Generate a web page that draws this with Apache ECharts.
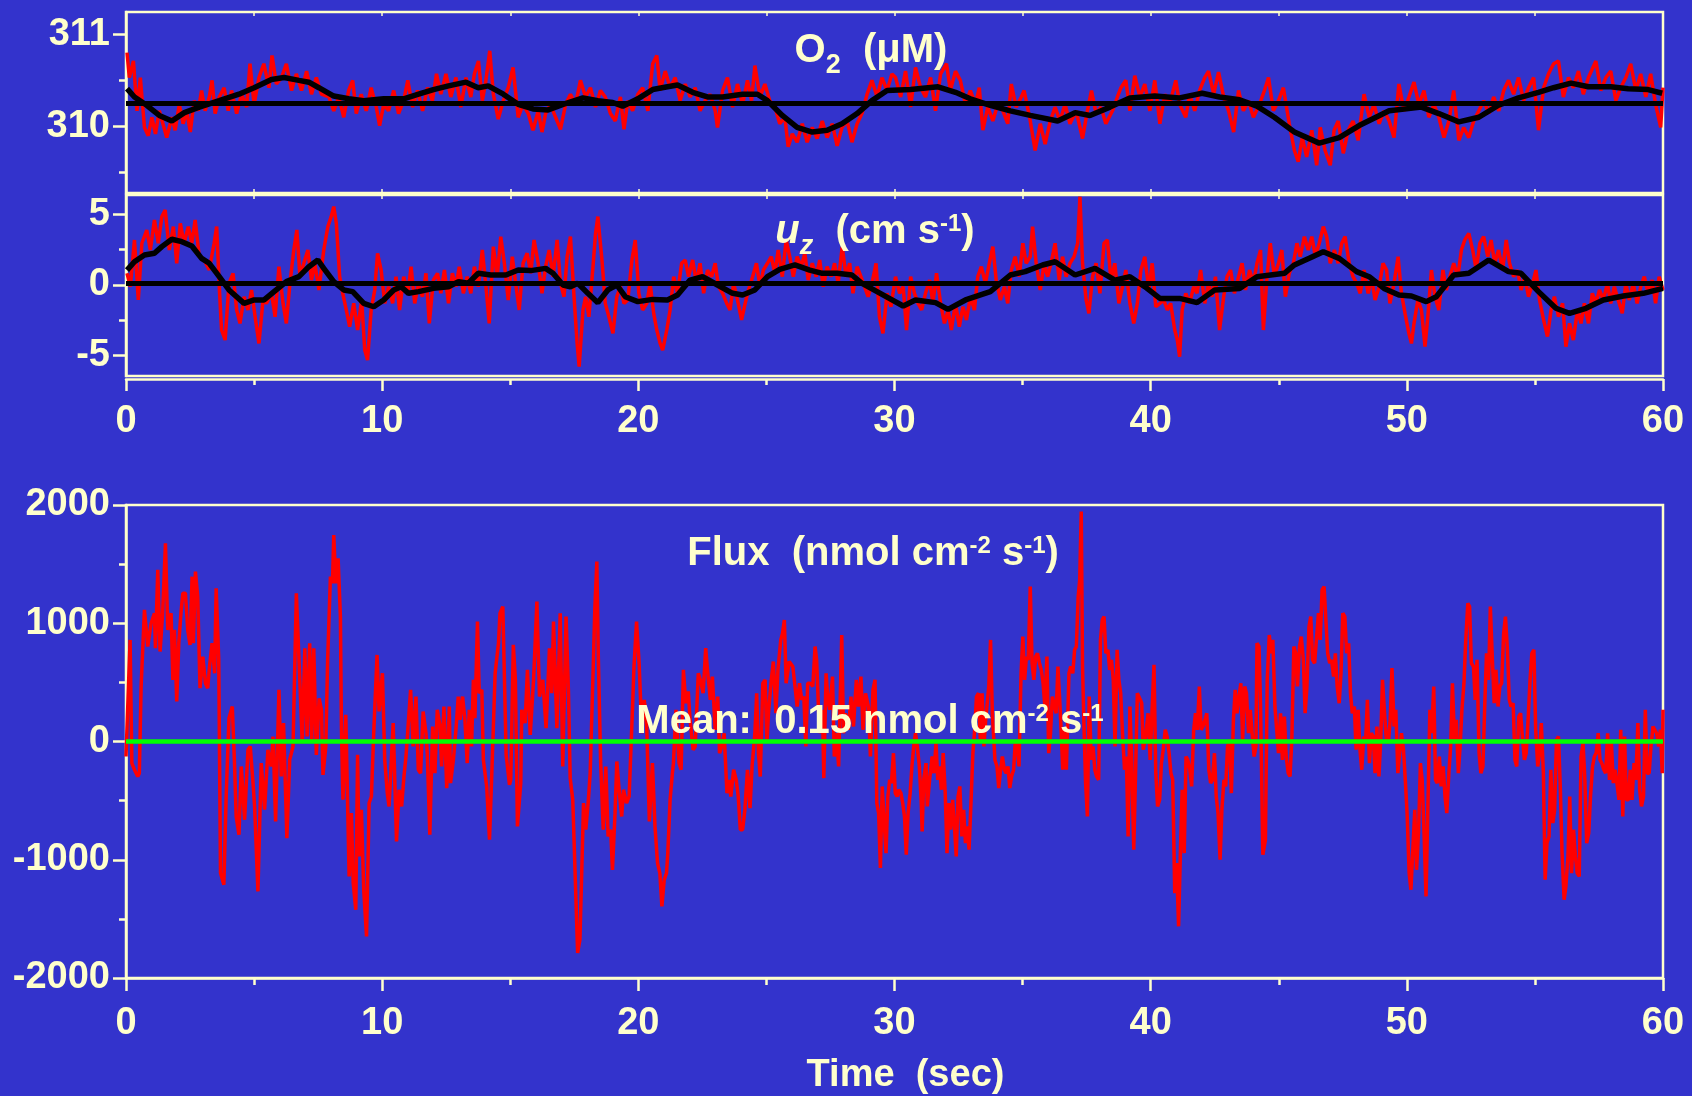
<!DOCTYPE html>
<html><head><meta charset="utf-8">
<script src="https://cdn.jsdelivr.net/npm/echarts@6/dist/echarts.min.js"></script>
<style>html,body{margin:0;padding:0;background:#3333CC;}#c{width:1692px;height:1096px;}</style>
</head><body><div id="c"></div>
<script>
// ---------- DATA (time in s) ----------
const o2Raw = [[0.04,310.80],[0.13,310.53],[0.29,310.71],[0.43,310.17],[0.56,310.53],[0.72,309.99],[0.87,309.90],[1.01,310.10],[1.15,309.92],[1.30,310.17],[1.46,310.01],[1.59,309.88],[1.79,310.10],[1.92,309.96],[2.08,310.24],[2.23,310.03],[2.37,310.17],[2.51,309.94],[2.66,310.28],[2.82,310.17],[2.95,310.39],[3.09,310.17],[3.25,310.32],[3.36,310.50],[3.48,310.14],[3.64,310.32],[3.83,310.42],[3.99,310.17],[4.12,310.39],[4.32,310.14],[4.51,310.35],[4.71,310.21],[4.84,310.68],[5.00,310.24],[5.19,310.53],[5.38,310.68],[5.58,310.42],[5.70,310.77],[5.87,310.46],[6.07,310.53],[6.26,310.68],[6.46,310.39],[6.65,310.57],[6.85,310.39],[7.05,310.60],[7.24,310.35],[7.43,310.53],[7.63,310.35],[7.92,310.32],[8.11,310.17],[8.31,310.32],[8.50,310.10],[8.69,310.39],[8.85,310.50],[8.99,310.14],[9.18,310.35],[9.38,310.17],[9.57,310.42],[9.77,310.21],[9.90,310.01],[10.06,310.24],[10.25,310.17],[10.45,310.39],[10.64,310.14],[10.84,310.28],[11.00,310.50],[11.19,310.21],[11.38,310.39],[11.58,310.17],[11.77,310.42],[11.96,310.28],[12.12,310.57],[12.29,310.35],[12.49,310.57],[12.68,310.32],[12.88,310.53],[13.07,310.21],[13.27,310.53],[13.46,310.32],[13.60,310.57],[13.76,310.71],[13.91,310.28],[14.04,310.48],[14.20,310.82],[14.34,310.35],[14.53,310.08],[14.73,310.28],[14.92,310.42],[15.11,310.64],[15.31,310.10],[15.50,310.24],[15.70,310.14],[15.89,309.96],[16.09,310.17],[16.24,309.94],[16.38,310.14],[16.57,310.24],[16.77,310.10],[16.96,309.97],[17.16,310.24],[17.35,310.35],[17.55,310.24],[17.74,310.50],[17.94,310.32],[18.13,310.42],[18.33,310.21],[18.52,310.39],[18.71,310.32],[18.91,310.14],[19.10,310.06],[19.30,310.32],[19.44,309.97],[19.59,310.28],[19.78,310.17],[19.98,310.35],[20.17,310.42],[20.37,310.17],[20.56,310.68],[20.72,310.77],[20.85,310.39],[21.05,310.60],[21.24,310.42],[21.44,310.53],[21.63,310.28],[21.83,310.46],[22.02,310.32],[22.22,310.42],[22.41,310.17],[22.61,310.28],[22.80,310.35],[23.00,310.17],[23.09,309.99],[23.29,310.39],[23.48,310.53],[23.68,310.21],[23.87,310.46],[24.07,310.24],[24.26,310.50],[24.42,310.28],[24.55,310.66],[24.75,310.32],[24.94,310.46],[25.13,310.28],[25.33,310.21],[25.52,310.03],[25.72,310.10],[25.85,309.78],[26.01,309.92],[26.20,309.83],[26.40,310.03],[26.59,309.83],[26.79,309.99],[26.98,309.87],[27.18,310.06],[27.37,309.88],[27.57,310.03],[27.76,309.79],[27.95,309.99],[28.15,310.06],[28.34,309.83],[28.54,310.03],[28.73,310.14],[28.93,310.35],[29.12,310.50],[29.32,310.32],[29.51,310.53],[29.71,310.39],[29.90,310.57],
[30.04,310.53],[30.24,310.32],[30.43,310.60],[30.63,310.21],[30.82,310.64],[31.02,310.42],[31.21,310.32],[31.41,310.53],[31.60,310.17],[31.80,310.57],[32.03,310.68],[32.18,310.39],[32.38,310.60],[32.57,310.50],[32.77,310.24],[32.96,310.39],[33.16,310.24],[33.31,310.42],[33.45,309.96],[33.64,310.21],[33.84,310.06],[34.03,310.24],[34.23,310.17],[34.42,310.03],[34.56,310.46],[34.75,310.21],[34.95,310.32],[35.06,310.39],[35.30,310.06],[35.49,309.74],[35.69,310.03],[35.88,309.81],[36.08,310.06],[36.27,310.21],[36.46,310.06],[36.66,310.24],[36.85,310.03],[37.09,310.17],[37.34,309.87],[37.53,310.17],[37.69,310.39],[37.87,310.14],[38.06,310.21],[38.25,310.03],[38.51,310.17],[38.70,310.32],[38.84,310.42],[39.03,310.50],[39.19,310.17],[39.38,310.55],[39.58,310.32],[39.77,310.46],[39.97,310.17],[40.16,310.50],[40.36,310.03],[40.55,310.35],[40.74,310.24],[40.98,310.50],[41.13,310.24],[41.37,310.10],[41.52,310.35],[41.72,310.17],[41.91,310.39],[42.11,310.53],[42.26,310.60],[42.46,310.35],[42.65,310.59],[42.85,310.32],[43.04,310.17],[43.24,309.94],[43.43,310.39],[43.62,310.17],[43.82,310.28],[44.01,310.10],[44.25,310.24],[44.44,310.39],[44.60,310.53],[44.79,310.17],[44.99,310.28],[45.18,310.42],[45.41,310.03],[45.61,309.74],[45.76,309.62],[45.92,309.88],[46.09,309.67],[46.29,309.96],[46.48,309.58],[46.62,309.99],[46.81,309.74],[47.01,309.58],[47.16,309.96],[47.32,310.06],[47.52,309.71],[47.71,309.96],[47.90,310.06],[48.10,309.85],[48.33,310.35],[48.53,310.10],[48.72,310.24],[48.92,310.03],[49.11,310.17],[49.31,310.06],[49.50,309.88],[49.69,310.46],[49.89,310.17],[50.08,310.32],[50.28,310.48],[50.47,310.24],[50.67,310.39],[50.86,310.10],[51.06,310.24],[51.25,310.10],[51.45,309.88],[51.64,310.06],[51.83,310.39],[52.03,309.85],[52.22,309.99],[52.42,309.88],[52.61,310.06],[52.81,310.17],[53.00,310.28],[53.20,310.14],[53.39,310.32],[53.59,310.17],[53.78,310.39],[53.97,310.50],[54.17,310.35],[54.36,310.53],[54.56,310.28],[54.75,310.42],[54.95,310.53],[55.14,309.96],[55.34,310.42],[55.53,310.57],[55.73,310.68],[55.92,310.71],[56.11,310.32],[56.31,310.53],[56.50,310.42],[56.70,310.60],[56.89,310.35],[57.09,310.53],[57.38,310.71],[57.57,310.39],[57.77,310.53],[57.96,310.60],[58.16,310.28],[58.35,310.42],[58.55,310.53],[58.74,310.68],[58.94,310.39],[59.13,310.57],[59.33,310.32],[59.52,310.57],[59.71,310.24],[59.91,309.99],[60.00,310.42]];

const o2Smooth = [[0.04,310.41],[0.33,310.32],[0.81,310.23],[1.30,310.12],[1.79,310.06],[2.28,310.15],[2.86,310.21],[3.64,310.28],[4.41,310.35],[5.00,310.42],[5.68,310.51],[6.17,310.53],[6.75,310.50],[7.14,310.48],[7.53,310.42],[8.11,310.33],[8.69,310.30],[9.28,310.28],[10.06,310.30],[10.84,310.30],[11.42,310.35],[12.00,310.40],[12.59,310.44],[13.27,310.48],[13.75,310.42],[14.14,310.44],[14.73,310.35],[15.31,310.24],[15.89,310.19],[16.48,310.18],[17.06,310.24],[17.84,310.31],[18.42,310.28],[19.00,310.26],[19.39,310.22],[19.98,310.30],[20.56,310.40],[21.14,310.43],[21.53,310.45],[22.12,310.37],[22.70,310.32],[23.29,310.32],[24.07,310.35],[24.65,310.35],[25.04,310.28],[25.62,310.12],[26.20,309.99],[26.79,309.94],[27.37,309.96],[27.95,310.03],[28.54,310.14],[29.12,310.28],[29.71,310.39],[30.63,310.40],[31.70,310.43],[32.38,310.37],[32.96,310.30],[33.74,310.23],[34.52,310.17],[35.30,310.12],[36.37,310.06],[37.05,310.15],[37.63,310.12],[38.41,310.21],[39.19,310.31],[40.16,310.33],[41.13,310.31],[42.01,310.36],[42.69,310.32],[43.47,310.29],[44.15,310.22],[44.83,310.10],[45.61,309.94],[46.58,309.82],[47.36,309.88],[48.14,310.01],[49.31,310.17],[50.57,310.21],[51.25,310.14],[52.03,310.05],[52.81,310.10],[53.58,310.23],[54.36,310.31],[55.14,310.37],[55.73,310.42],[56.41,310.47],[57.09,310.43],[57.96,310.43],[58.64,310.41],[59.42,310.40],[59.97,310.36]];

const o2Mean = 310.25;

const uzRaw = [[0.04,0.83],[0.17,-0.12],[0.33,3.19],[0.48,-1.06],[0.62,2.96],[0.81,3.90],[0.95,2.48],[1.11,4.61],[1.26,2.96],[1.40,4.85],[1.53,5.32],[1.69,2.48],[1.85,4.14],[1.98,1.54],[2.12,4.37],[2.27,2.96],[2.43,4.14],[2.57,2.96],[2.70,4.61],[2.86,2.01],[3.05,1.77],[3.25,1.06],[3.44,2.96],[3.54,4.14],[3.64,-0.12],[3.73,-3.19],[3.87,-3.90],[4.02,0.12],[4.18,0.83],[4.32,-1.77],[4.45,-2.72],[4.61,-0.83],[4.76,-1.77],[4.90,-0.35],[5.04,-2.25],[5.19,-4.14],[5.35,-1.06],[5.48,-1.30],[5.68,-0.59],[5.82,-2.25],[5.97,1.30],[6.13,-1.30],[6.26,-2.72],[6.40,0.12],[6.55,2.48],[6.67,3.90],[6.79,0.59],[6.94,1.54],[7.10,2.48],[7.24,0.35],[7.37,1.54],[7.53,-0.35],[7.72,2.48],[7.88,4.14],[8.01,4.85],[8.11,5.56],[8.21,4.37],[8.34,0.59],[8.46,-0.59],[8.60,-1.77],[8.73,-2.96],[8.89,-1.30],[9.04,-3.19],[9.20,-1.06],[9.32,-4.61],[9.43,-5.32],[9.57,-1.77],[9.71,-0.35],[9.82,2.25],[9.96,1.06],[10.10,-1.30],[10.25,-0.12],[10.41,-1.30],[10.54,0.59],[10.68,-1.77],[10.84,0.59],[11.00,-0.59],[11.13,1.30],[11.27,-1.30],[11.42,0.12],[11.57,-0.83],[11.71,0.83],[11.84,-2.72],[12.00,0.35],[12.16,0.83],[12.29,-0.59],[12.43,1.06],[12.59,-1.30],[12.74,0.83],[12.88,-0.12],[13.01,1.30],[13.17,-0.59],[13.32,0.59],[13.46,-0.59],[13.60,1.30],[13.75,-0.12],[13.91,2.48],[14.04,0.12],[14.18,-2.72],[14.34,2.72],[14.49,0.59],[14.63,3.43],[14.77,1.54],[14.92,-1.06],[15.08,2.01],[15.21,0.12],[15.35,-1.77],[15.50,1.54],[15.66,2.25],[15.80,0.83],[15.93,3.19],[16.09,1.54],[16.24,-0.59],[16.38,1.30],[16.52,2.48],[16.67,0.59],[16.83,3.19],[16.96,0.12],[17.10,-0.83],[17.22,2.01],[17.35,3.43],[17.49,-0.83],[17.61,-4.14],[17.69,-5.79],[17.84,-1.77],[17.94,-0.83],[18.07,-2.25],[18.23,1.30],[18.33,3.66],[18.42,4.85],[18.58,1.77],[18.71,-1.30],[18.85,-2.25],[19.01,-3.43],[19.16,-0.83],[19.30,-0.12],[19.44,-1.30],[19.59,-1.06],[19.75,1.77],[19.88,3.19],[20.02,-0.59],[20.17,-1.77],[20.33,-1.30],[20.46,0.12],[20.60,-2.01],[20.72,-3.19],[20.85,-4.14],[20.95,-4.61],[21.11,-3.19],[21.24,-1.77],[21.38,0.59],[21.53,-0.59],[21.69,1.54],[21.83,1.77],[21.96,0.59],[22.12,1.77],[22.27,0.12],[22.41,1.54],[22.55,-0.59],[22.70,1.06],[22.86,0.59],[23.00,1.54],[23.13,-0.12],[23.29,-0.59],[23.45,-1.30],[23.58,-1.77],[23.72,0.12],[23.87,-1.06],[24.03,-2.48],[24.17,-1.30],[24.30,-0.35],[24.46,0.59],[24.61,1.54],[24.75,-0.12],[24.88,1.06],[25.04,1.54],[25.19,2.01],[25.33,0.83],[25.46,2.48],[25.62,0.59],[25.77,3.19],[25.91,2.01],[26.05,0.59],[26.20,2.01],[26.36,1.30],[26.50,2.25],[26.63,0.35],[26.79,1.54],[26.94,0.59],[27.08,1.77],[27.22,-0.12],[27.37,1.30],[27.53,0.59],[27.66,1.54],[27.80,0.12],[27.96,2.72],[28.11,0.59],[28.25,1.54],[28.38,-0.59],[28.54,1.30],[28.69,0.59],[28.83,-0.12],[28.97,-0.83],[29.12,0.12],[29.28,1.54],[29.41,-2.25],[29.55,-3.43],[29.71,-0.59],[29.86,-1.54],[30.00,0.12],
[30.04,0.59],[30.20,-0.59],[30.34,-0.12],[30.47,-3.19],[30.63,0.59],[30.78,-0.59],[30.92,-1.30],[31.06,-1.77],[31.21,-0.59],[31.37,0.35],[31.50,-1.30],[31.64,0.83],[31.80,-1.30],[31.95,-2.72],[32.09,-1.77],[32.22,-3.19],[32.38,-1.30],[32.53,-2.96],[32.67,-1.54],[32.81,-2.48],[32.96,-0.83],[33.12,-1.77],[33.25,0.59],[33.39,1.30],[33.55,0.12],[33.70,1.54],[33.84,2.72],[33.97,0.35],[34.13,-1.06],[34.29,-0.12],[34.42,-1.30],[34.56,1.06],[34.71,2.01],[34.87,0.59],[35.01,2.96],[35.14,1.54],[35.30,2.01],[35.39,4.14],[35.53,1.54],[35.69,-0.35],[35.84,1.54],[35.98,0.59],[36.11,1.54],[36.27,2.96],[36.43,0.35],[36.56,2.01],[36.70,0.59],[36.85,1.54],[37.01,2.01],[37.15,2.96],[37.24,6.26],[37.34,1.54],[37.48,-1.06],[37.59,-2.01],[37.73,0.59],[37.87,1.54],[38.02,-0.59],[38.18,2.96],[38.31,3.19],[38.45,0.35],[38.60,1.54],[38.76,-1.30],[38.90,-0.12],[39.03,1.06],[39.19,-1.30],[39.34,-2.72],[39.48,-1.30],[39.62,1.06],[39.77,2.01],[39.93,-0.35],[40.06,1.54],[40.20,-1.54],[40.36,-1.30],[40.51,-1.06],[40.65,-1.77],[40.78,-1.30],[40.94,-3.19],[41.04,-3.90],[41.13,-5.08],[41.23,-1.77],[41.37,-0.59],[41.52,-1.30],[41.68,-0.12],[41.81,-0.59],[41.95,1.06],[42.11,-1.30],[42.26,0.12],[42.40,-0.83],[42.53,0.59],[42.69,-3.19],[42.85,-0.83],[42.98,0.59],[43.12,1.06],[43.27,-0.59],[43.43,0.59],[43.57,1.54],[43.70,-0.35],[43.86,1.06],[44.01,0.12],[44.15,1.54],[44.29,2.48],[44.40,-3.19],[44.54,0.59],[44.67,2.96],[44.83,0.59],[44.99,1.54],[45.12,2.48],[45.26,-0.83],[45.41,0.83],[45.57,1.54],[45.71,2.96],[45.84,2.01],[46.00,3.43],[46.15,2.48],[46.29,3.43],[46.43,2.01],[46.58,2.96],[46.74,4.14],[46.87,3.43],[47.01,1.54],[47.17,2.48],[47.32,1.54],[47.46,2.96],[47.59,3.43],[47.75,1.54],[47.90,0.59],[48.04,0.12],[48.18,-0.59],[48.33,1.06],[48.49,-0.59],[48.62,0.59],[48.76,-1.06],[48.92,-0.12],[49.07,1.54],[49.21,1.06],[49.34,-1.30],[49.50,0.12],[49.66,2.01],[49.79,-0.59],[49.93,-2.01],[50.08,-3.43],[50.18,-4.14],[50.28,-2.72],[50.43,-1.06],[50.57,-1.77],[50.71,-4.37],[50.82,-2.25],[50.96,1.06],[51.10,-0.83],[51.25,-1.77],[51.41,1.06],[51.54,-0.35],[51.68,0.59],[51.83,1.54],[51.99,0.59],[52.13,2.48],[52.26,3.19],[52.42,3.66],[52.57,2.48],[52.71,1.06],[52.85,2.96],[53.00,3.43],[53.16,2.01],[53.29,3.19],[53.43,1.54],[53.58,2.48],[53.74,1.06],[53.88,3.19],[54.01,1.54],[54.17,0.59],[54.32,1.06],[54.46,-0.35],[54.60,0.59],[54.75,-0.83],[54.91,0.12],[55.04,1.06],[55.18,-1.06],[55.34,-2.48],[55.49,-3.66],[55.63,-1.77],[55.76,-0.83],[55.92,-2.25],[56.08,-1.30],[56.21,-4.37],[56.35,-2.72],[56.50,-3.90],[56.66,-1.77],[56.80,-2.72],[56.93,-1.30],[57.09,-2.72],[57.24,-0.59],[57.38,-1.30],[57.52,-0.35],[57.67,-1.06],[57.83,0.12],[57.96,-1.30],[58.10,-0.12],[58.25,-1.06],[58.41,-2.01],[58.55,0.12],[58.68,-1.06],[58.84,0.12],[58.99,-1.30],[59.13,-0.12],[59.27,0.59],[59.42,-0.59],[59.58,0.35],[59.71,-1.30],[59.85,0.59],[60.00,-0.35]];

const uzSmooth = [[0.04,1.06],[0.33,1.65],[0.72,2.13],[1.11,2.25],[1.40,2.72],[1.79,3.24],[2.18,3.07],[2.57,2.77],[2.95,1.89],[3.25,1.54],[3.64,0.59],[4.02,-0.35],[4.61,-1.30],[5.00,-1.06],[5.39,-1.06],[5.78,-0.47],[6.26,0.24],[6.75,0.59],[7.14,1.30],[7.49,1.77],[7.72,1.18],[8.11,0.24],[8.50,-0.35],[8.85,-0.47],[9.28,-1.30],[9.67,-1.54],[10.06,-1.06],[10.45,-0.35],[10.74,-0.12],[11.03,-0.59],[11.42,-0.47],[12.00,-0.24],[12.59,-0.12],[12.98,0.24],[13.36,0.12],[13.75,0.83],[14.24,0.71],[14.83,0.71],[15.31,1.06],[15.80,1.02],[16.38,1.18],[16.67,0.83],[17.06,0.00],[17.35,-0.12],[17.64,0.12],[18.03,-0.59],[18.42,-1.25],[18.81,-0.35],[19.16,0.00],[19.49,-0.83],[19.98,-1.18],[20.56,-1.02],[21.14,-1.06],[21.53,-0.71],[22.02,0.35],[22.51,0.59],[23.09,0.00],[23.68,-0.59],[24.07,-0.71],[24.55,-0.35],[25.04,0.59],[25.52,1.11],[26.11,1.42],[26.69,1.06],[27.18,0.83],[27.76,0.83],[28.34,0.71],[28.73,0.12],[29.32,-0.47],[29.85,-1.00],[30.34,-1.49],[30.82,-1.06],[31.60,-1.25],[32.09,-1.73],[32.77,-1.06],[33.74,-0.47],[34.52,0.71],[35.10,0.95],[35.78,1.42],[36.27,1.65],[37.05,0.71],[37.83,1.18],[38.60,0.35],[39.19,0.59],[39.77,-0.12],[40.36,-0.95],[41.13,-0.95],[41.81,-1.25],[42.50,-0.35],[43.47,-0.24],[44.15,0.59],[45.22,0.83],[45.61,1.42],[46.19,1.89],[46.74,2.36],[47.36,1.89],[48.04,0.95],[48.53,0.59],[49.11,-0.24],[49.69,-0.71],[50.18,-0.78],[50.76,-1.18],[51.15,-0.83],[51.83,0.71],[52.42,0.83],[53.20,1.77],[53.97,0.95],[54.46,0.83],[55.14,-0.47],[55.82,-1.65],[56.35,-2.01],[56.99,-1.65],[57.67,-1.06],[58.45,-0.78],[59.23,-0.59],[60.00,-0.24]];

const uzMean = 0.1;

const fluxRaw = [[0,-127],[0.16,859],[0.23,-183],[0.33,-239],[0.46,-296],[0.52,-268],[0.59,465],[0.72,1113],[0.85,803],[0.98,1000],[1.11,1085],[1.15,789],[1.24,1451],[1.33,761],[1.43,1085],[1.54,1676],[1.63,944],[1.76,1085],[1.83,521],[1.89,944],[1.98,338],[2.06,831],[2.15,1099],[2.22,1254],[2.32,1254],[2.41,944],[2.50,817],[2.58,1394],[2.63,831],[2.71,1437],[2.80,1225],[2.89,451],[3.00,718],[3.10,493],[3.19,451],[3.26,634],[3.36,831],[3.46,577],[3.52,1296],[3.62,690],[3.69,-1113],[3.82,-1211],[3.91,-465],[4.02,197],[4.15,296],[4.24,-211],[4.30,-634],[4.41,-789],[4.50,-211],[4.63,-662],[4.76,-70],[4.85,-42],[4.95,-324],[5.02,-549],[5.15,-1268],[5.28,-183],[5.41,-577],[5.54,-70],[5.67,-211],[5.74,42],[5.84,-676],[5.97,437],[6.06,-296],[6.15,155],[6.28,-817],[6.39,-155],[6.52,-42],[6.65,1254],[6.71,1254],[6.78,549],[6.88,-14],[6.98,789],[7.07,42],[7.17,831],[7.25,14],[7.33,789],[7.43,-113],[7.54,366],[7.63,268],[7.69,-282],[7.80,-42],[7.87,676],[7.98,1394],[8.06,1338],[8.11,1746],[8.19,1338],[8.28,1549],[8.37,1056],[8.41,113],[8.47,-493],[8.58,225],[8.71,-1141],[8.80,-606],[8.87,-1197],[8.97,-1423],[9.04,-113],[9.10,-972],[9.19,-577],[9.28,-1254],[9.39,-1648],[9.49,-521],[9.58,-465],[9.67,70],[9.80,732],[9.88,254],[10.01,577],[10.10,-155],[10.20,-437],[10.27,-549],[10.43,155],[10.56,-845],[10.66,-408],[10.76,-549],[10.85,-296],[10.93,-127],[11.02,155],[11.11,437],[11.21,-42],[11.32,380],[11.41,-239],[11.50,-268],[11.60,254],[11.71,70],[11.76,-99],[11.86,-789],[11.97,127],[12.06,-268],[12.15,268],[12.26,127],[12.32,-211],[12.41,296],[12.52,-394],[12.62,296],[12.67,-352],[12.78,-155],[12.88,99],[12.97,380],[13.04,183],[13.14,380],[13.23,183],[13.32,-183],[13.40,268],[13.49,-42],[13.56,521],[13.62,197],[13.72,1014],[13.79,408],[13.89,437],[13.95,-155],[14.08,-380],[14.19,-831],[14.28,-268],[14.41,577],[14.54,831],[14.60,1085],[14.71,1141],[14.84,-113],[14.97,-366],[15.02,-324],[15.12,817],[15.20,521],[15.28,-718],[15.41,-352],[15.45,268],[15.58,155],[15.67,606],[15.78,56],[15.91,521],[16.04,1183],[16.14,380],[16.27,521],[16.40,113],[16.53,789],[16.62,408],[16.69,1014],[16.82,113],[16.95,1085],[17.05,-211],[17.18,1056],[17.27,437],[17.34,-310],[17.44,-493],[17.54,-1169],[17.63,-1789],
[17.72,-1676],[17.81,-944],[17.86,-521],[17.95,-746],[18.05,-493],[18.12,-268],[18.24,634],[18.30,1113],[18.38,1521],[18.44,690],[18.53,-183],[18.63,-746],[18.73,-211],[18.82,-803],[18.92,-746],[18.99,-1085],[19.09,-606],[19.16,-169],[19.25,-408],[19.35,-634],[19.42,-408],[19.54,-521],[19.64,-465],[19.71,-70],[19.78,324],[19.83,634],[19.93,1014],[20.03,662],[20.14,70],[20.23,352],[20.32,183],[20.43,-676],[20.55,-183],[20.65,-718],[20.75,-1028],[20.84,-1113],[20.92,-1394],[21.01,-1169],[21.10,-1113],[21.15,-944],[21.24,-493],[21.33,-268],[21.37,-183],[21.47,268],[21.59,-183],[21.67,-239],[21.76,606],[21.85,324],[21.95,423],[22.02,183],[22.14,-70],[22.22,-42],[22.34,577],[22.42,521],[22.53,408],[22.63,789],[22.71,577],[22.81,352],[22.89,549],[23.00,99],[23.10,380],[23.17,-99],[23.25,-42],[23.35,70],[23.46,-437],[23.55,-324],[23.61,-465],[23.72,-239],[23.82,-324],[23.90,-465],[23.98,-746],[24.07,-746],[24.16,-577],[24.26,-239],[24.36,-563],[24.44,-211],[24.55,70],[24.62,408],[24.69,-99],[24.76,-296],[24.86,493],[24.95,521],[25.02,-14],[25.08,239],[25.19,521],[25.27,676],[25.37,239],[25.45,606],[25.56,859],[25.63,916],[25.70,1028],[25.77,493],[25.89,676],[25.95,690],[26.03,634],[26.13,437],[26.20,296],[26.29,493],[26.38,352],[26.46,380],[26.54,-42],[26.61,493],[26.71,493],[26.81,465],[26.90,803],[26.96,690],[27.04,239],[27.10,70],[27.19,268],[27.24,-310],[27.33,577],[27.39,380],[27.47,268],[27.58,549],[27.65,-127],[27.72,70],[27.82,-211],[27.94,901],[28.01,70],[28.08,239],[28.20,99],[28.30,380],[28.40,127],[28.51,521],[28.59,296],[28.69,549],[28.77,99],[28.87,408],[28.98,296],[29.06,-127],[29.16,437],[29.24,521],[29.31,-521],[29.38,-606],[29.45,-1070],[29.52,-380],[29.60,-690],[29.67,-944],[29.74,-465],[29.81,-324],[29.88,-352],[29.96,-99],[30.03,-437],[30.10,-465],[30.17,-408],[30.25,-437],[30.32,-521],[30.39,-634],[30.46,-958],[30.53,-606],[30.61,-437],[30.68,-211],[30.75,-42],[30.82,70],[30.89,-42],[30.97,-211],[31.04,-493],[31.08,-761],[31.14,-324],[31.23,-183],[31.28,-549],[31.37,-324],[31.47,-127],[31.54,-268],[31.62,-14],[31.69,-324],[31.76,-211],[31.83,-408],[31.90,-99],[31.98,-437],[32.05,-944],[32.12,-521],[32.19,-746],[32.27,-493],[32.34,-718],[32.41,-972],[32.48,-465],[32.55,-380],[32.63,-803],[32.70,-577],[32.77,-859],[32.84,-718],[32.91,-915],[32.99,-493],[33.06,-99],[33.13,99],[33.20,380],[33.28,408],[33.35,14],[33.42,408],[33.49,-42],[33.56,183],[33.68,465],[33.75,859],[33.82,239],[33.92,-155],[34.00,-211],[34.07,-394],[34.14,-239],[34.21,-127],[34.29,-239],[34.36,-268],[34.43,-211],[34.50,-394],[34.57,-296],[34.65,-239],[34.72,14],[34.79,-42],[34.86,-211],[34.94,577],[35.01,887],[35.08,521],[35.15,718],[35.22,690],[35.30,1310],[35.37,662],[35.44,521],[35.51,718],[35.58,746],[35.66,662],[35.73,606],[35.80,493],[35.87,296],[35.95,718],[36.02,-99],[36.09,70],[36.16,380],[36.31,239],[36.38,634],[36.45,352],[36.57,-239],[36.62,99],[36.71,-239],[36.81,577],[36.88,634],[36.96,577],[37.03,775],[37.10,803],[37.17,1225],[37.23,1366],[37.29,1944],[37.34,634],[37.39,183],[37.46,-352],[37.53,-634],[37.60,380],[37.68,-155],[37.75,-42],[37.82,-239],[37.89,-296],[37.97,-324],[38.04,859],[38.11,1028],[38.18,1056],[38.25,746],[38.33,775],[38.40,606],[38.47,690],[38.54,521],[38.61,-42],[38.69,775],[38.76,521],[38.83,408],[38.90,70],[38.98,-239],[39.05,-127],[39.12,-803],[39.19,296],[39.26,-155],[39.34,-915],[39.41,-268],[39.48,408],[39.60,352],
[39.65,324],[39.71,-70],[39.80,42],[39.90,239],[39.98,-155],[40.05,239],[40.13,648],[40.20,-268],[40.27,-549],[40.35,-493],[40.42,-183],[40.49,-70],[40.57,99],[40.64,42],[40.72,-99],[40.79,-268],[40.86,-324],[40.94,-1282],[41.01,-1028],[41.09,-1563],[41.16,-944],[41.23,-408],[41.31,-944],[41.38,-127],[41.45,-155],[41.53,-239],[41.60,-380],[41.68,99],[41.75,239],[41.82,99],[41.90,465],[41.97,99],[42.04,127],[42.12,183],[42.19,239],[42.27,-239],[42.34,-352],[42.41,-324],[42.49,-99],[42.56,-465],[42.63,-606],[42.71,-1000],[42.78,-577],[42.86,-324],[42.93,-380],[43.00,-42],[43.08,14],[43.15,-437],[43.23,183],[43.30,437],[43.37,239],[43.45,380],[43.52,493],[43.59,14],[43.67,465],[43.74,408],[43.82,70],[43.89,268],[43.96,70],[44.04,-127],[44.11,-42],[44.15,831],[44.23,803],[44.29,296],[44.38,-958],[44.48,-831],[44.55,521],[44.63,901],[44.70,746],[44.77,859],[44.85,296],[44.92,296],[44.99,-99],[45.07,239],[45.14,-155],[45.22,211],[45.29,-127],[45.37,-268],[45.44,-296],[45.51,14],[45.59,803],[45.66,746],[45.73,465],[45.81,803],[45.88,887],[45.96,690],[46.03,239],[46.10,465],[46.18,972],[46.25,1056],[46.32,690],[46.40,662],[46.47,662],[46.55,1085],[46.62,859],[46.69,1282],[46.77,1310],[46.84,1028],[46.91,746],[46.99,662],[47.06,690],[47.14,549],[47.21,746],[47.28,465],[47.36,324],[47.43,577],[47.50,1085],[47.58,1056],[47.65,746],[47.73,831],[47.80,408],[47.87,239],[47.95,296],[48.02,-70],[48.10,268],[48.17,-70],[48.24,-239],[48.32,42],[48.39,-14],[48.46,352],[48.54,-183],[48.61,70],[48.69,42],[48.76,-268],[48.83,127],[48.91,-296],[48.98,14],[49.05,521],[49.13,239],[49.20,14],[49.28,-14],[49.35,183],[49.42,620],[49.50,127],[49.57,268],[49.65,-268],[49.72,-268],[49.79,70],[49.87,-70],[49.94,-324],[50.01,-606],[50.09,-1113],[50.16,-1254],[50.24,-887],[50.31,-577],[50.38,-1085],[50.46,-746],[50.53,-183],[50.60,-324],[50.68,-831],[50.75,-1310],[50.83,-465],[50.90,268],[50.97,70],[51.05,465],[51.12,-324],[51.19,-352],[51.27,-127],[51.34,-380],[51.42,-211],[51.49,-465],[51.56,-606],[51.64,-268],[51.71,-42],[51.78,493],[51.86,14],[51.93,183],[52.01,-268],[52.08,-42],[52.15,268],[52.23,493],[52.30,859],[52.38,1169],[52.45,1141],[52.52,662],[52.60,634],[52.67,352],[52.74,690],[52.82,-99],[52.89,-268],[52.97,-211],[53.04,296],[53.11,746],[53.19,521],[53.26,1141],[53.34,690],[53.41,324],[53.48,606],[53.56,296],[53.63,465],[53.70,493],[53.78,916],[53.85,1056],[53.92,803],[54.00,352],[54.07,296],[54.15,324],[54.22,-155],[54.29,-211],[54.37,211],[54.44,239],[54.52,14],[54.59,-155],[54.66,-99],[54.74,211],[54.81,521],[54.88,746],[54.96,775],[55.03,99],[55.11,-211],[55.18,-99],[55.25,155],[55.33,-268],[55.40,-1169],[55.47,-859],[55.55,-803],[55.62,-239],[55.70,-690],[55.77,-577],[55.84,14],[55.92,42],[55.99,-380],[56.06,-944],[56.14,-1338],[56.21,-1225],[56.29,-972],[56.36,-465],[56.43,-1113],[56.51,-746],[56.58,-972],[56.65,-1113],[56.73,-1141],[56.80,-127],[56.88,-14],[56.95,-324],[57.02,-859],[57.10,-775],[57.17,-465],[57.25,-211],[57.32,-127],[57.39,-99],[57.47,70],[57.54,-155],[57.61,-183],[57.69,-239],[57.76,-268],[57.84,70],[57.91,-324],[57.98,14],[58.06,-352],[58.13,-239],[58.20,-352],[58.28,-493],[58.35,99],[58.43,-634],[58.50,42],[58.57,-493],[58.65,-493],[58.72,-239],[58.79,-493],[58.87,-183],[58.94,-324],[59.02,155],[59.09,-408],[59.16,-549],[59.24,-465],[59.31,268],[59.38,-268],[59.46,-268],[59.53,-42],[59.61,127],[59.68,127],[59.75,70],[59.83,-42],[59.90,99],[59.97,-268],[60.00,268]];

const fluxMean = 0.15;

const timeMax = 60;
const o2TickLabels = [310, 311];
const o2MinorTicks = [309.5, 310.5];
const uzTickLabels = [-5, 0, 5];
const uzMinorTicks = [-2.5, 2.5];

// ---------- STYLE ----------
const CREAM = '#FFFFCC';
const FONT = "'Liberation Sans', Arial, Helvetica, sans-serif";
const lbl = {color: CREAM, fontFamily: FONT, fontWeight: 'bold', fontSize: 38};
const lineCream = {color: CREAM, width: 2.5};
const fmt = v => String(v);

const chart = echarts.init(document.getElementById('c'), null, {renderer: 'canvas'});

function gridDef(top, height) {
  return {left: 126, right: 29, top: top, height: height, show: true,
          borderColor: CREAM, borderWidth: 2.5, backgroundColor: 'transparent'};
}
function innerX(gi, pos) {
  return {gridIndex: gi, type: 'value', min: 0, max: timeMax, interval: 5, position: pos,
    axisLine: {show: false, onZero: false}, axisTick: {show: true, inside: true, length: 4, lineStyle: {color: CREAM, width: 1.5}},
    axisLabel: {show: false}, splitLine: {show: false}};
}
function mainY(gi, min, max, labels) {
  return {gridIndex: gi, type: 'value', position: 'left', min: min, max: max,
    axisLine: {show: true, onZero: false, lineStyle: lineCream},
    axisTick: {show: true, length: 13, customValues: labels, lineStyle: lineCream},
    axisLabel: Object.assign({customValues: labels, margin: 16, formatter: fmt}, lbl),
    splitLine: {show: false}};
}
function minorY(gi, min, max, ticks) {
  return {gridIndex: gi, type: 'value', position: 'left', min: min, max: max,
    axisLine: {show: false, onZero: false},
    axisTick: {show: true, length: 7, customValues: ticks, lineStyle: lineCream},
    axisLabel: {show: false}, splitLine: {show: false}};
}
function redLine(data, xi, yi, w) {
  return {type: 'line', data: data, xAxisIndex: xi, yAxisIndex: yi, showSymbol: false, symbol: 'none',
    lineStyle: {color: '#FF0000', width: w}, z: 2, silent: true};
}
function smoothLine(data, xi, yi) {
  return {type: 'line', data: data, xAxisIndex: xi, yAxisIndex: yi, showSymbol: false, symbol: 'none',
    lineStyle: {color: '#000000', width: 5.5}, z: 3, silent: true};
}
function meanLine(v, xi, yi, color, w) {
  return {type: 'line', data: [[0, v], [timeMax, v]], xAxisIndex: xi, yAxisIndex: yi, showSymbol: false, symbol: 'none',
    lineStyle: {color: color, width: w}, z: 4, silent: true};
}

const big = {fill: CREAM, color: CREAM, fontFamily: FONT, fontWeight: 'bold', fontSize: 40, lineHeight: 46, verticalAlign: 'top'};
const ital = Object.assign({}, big, {fontStyle: 'italic'});
const sup = {fill: CREAM, color: CREAM, fontFamily: FONT, fontWeight: 'bold', fontSize: 24, lineHeight: 46, verticalAlign: 'top'};
const sub = {fill: CREAM, color: CREAM, fontFamily: FONT, fontWeight: 'bold', fontSize: 27, lineHeight: 46, verticalAlign: 'top', padding: [21, 0, 0, 0]};
const isub = Object.assign({}, sub, {fontStyle: 'italic'});
const richSet = {b: big, i: ital, sup: sup, sub: sub, isub: isub};

function title(text, x, y) {
  return {type: 'text', x: x, y: y, z: 100, silent: true,
    style: {text: text, rich: richSet, fill: CREAM, align: 'center', verticalAlign: 'top',
            textAlign: 'center', textVerticalAlign: 'top', font: 'bold 40px ' + FONT}};
}

const option = {
  backgroundColor: '#3333CC',
  animation: false,
  grid: [gridDef(12, 181), gridDef(195, 181), gridDef(505, 476)],
  xAxis: [
    innerX(0, 'bottom'),
    innerX(0, 'top'),
    {gridIndex: 1, type: 'value', min: 0, max: timeMax, interval: 10, position: 'bottom', offset: 3,
      axisLine: {show: true, onZero: false, lineStyle: lineCream},
      axisTick: {show: true, length: 12, lineStyle: lineCream},
      minorTick: {show: true, splitNumber: 2, length: 6, lineStyle: lineCream},
      axisLabel: Object.assign({margin: 24, formatter: fmt}, lbl),
      splitLine: {show: false}, minorSplitLine: {show: false}},
    innerX(1, 'top'),
    {gridIndex: 2, type: 'value', min: 0, max: timeMax, interval: 10, position: 'bottom',
      axisLine: {show: true, onZero: false, lineStyle: lineCream},
      axisTick: {show: true, length: 13, lineStyle: lineCream},
      minorTick: {show: true, splitNumber: 2, length: 7, lineStyle: lineCream},
      axisLabel: Object.assign({margin: 27, formatter: fmt}, lbl),
      name: 'Time  (sec)', nameLocation: 'middle', nameGap: 79,
      nameTextStyle: Object.assign({padding: [0, 0, 0, 22]}, lbl),
      splitLine: {show: false}, minorSplitLine: {show: false}}
  ],
  yAxis: [
    mainY(0, 309.28, 311.24, o2TickLabels),
    minorY(0, 309.28, 311.24, o2MinorTicks),
    mainY(1, -6.45, 6.38, uzTickLabels),
    minorY(1, -6.45, 6.38, uzMinorTicks),
    {gridIndex: 2, type: 'value', position: 'left', min: -2000, max: 2000, interval: 1000,
      axisLine: {show: true, onZero: false, lineStyle: lineCream},
      axisTick: {show: true, length: 13, lineStyle: lineCream},
      minorTick: {show: true, splitNumber: 2, length: 7, lineStyle: lineCream},
      axisLabel: Object.assign({margin: 16, formatter: fmt}, lbl),
      splitLine: {show: false}, minorSplitLine: {show: false}}
  ],
  series: [
    redLine(o2Raw, 0, 0, 3.5),
    smoothLine(o2Smooth, 0, 0),
    meanLine(o2Mean, 0, 0, '#000000', 5),
    redLine(uzRaw, 2, 2, 3.5),
    smoothLine(uzSmooth, 2, 2),
    meanLine(uzMean, 2, 2, '#000000', 5),
    redLine(fluxRaw, 4, 4, 3.5),
    meanLine(fluxMean, 4, 4, '#00FF00', 4.5)
  ],
  graphic: [
    title('{b|O}{sub|2}{b|  (μM)}', 871, 31),
    title('{i|u}{isub|z}{b|  (cm s}{sup|-1}{b|)}', 875, 212),
    title('{b|Flux  (nmol cm}{sup|-2}{b| s}{sup|-1}{b|)}', 873, 534),
    title('{b|Mean:  0.15 nmol cm}{sup|-2}{b| s}{sup|-1}', 870, 702)
  ]
};
chart.setOption(option);
</script>
</body></html>
